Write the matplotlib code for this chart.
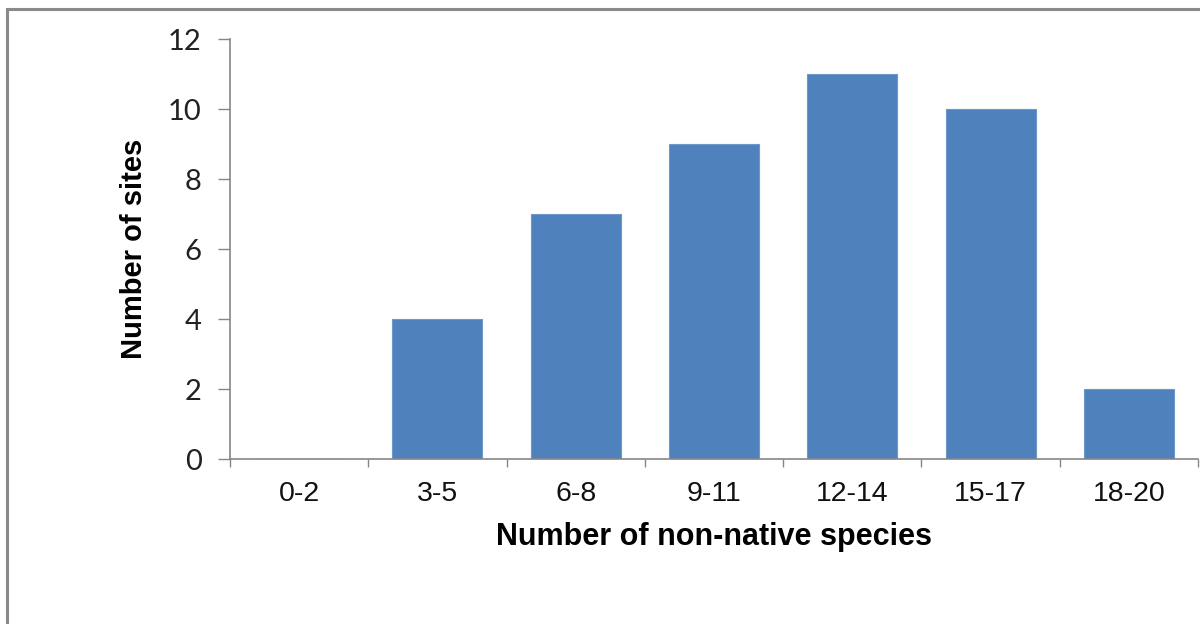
import matplotlib
matplotlib.use("Agg")
import matplotlib.pyplot as plt
from matplotlib.patches import Rectangle
import numpy as np

categories = ["0-2", "3-5", "6-8", "9-11", "12-14", "15-17", "18-20"]
sites = [0, 4, 7, 9, 11, 10, 2]
yticks = [0, 2, 4, 6, 8, 10, 12]

BAR = "#4F81BD"
AXC = "#868686"

fig = plt.figure(figsize=(12, 6.24), dpi=100)
ax = fig.add_axes([230/1200, 1-459/624, 968/1200, 420/624])

x = np.arange(len(categories))
ax.bar(x, sites, width=0.65, color=BAR, edgecolor="#6d98cc", linewidth=0.8, zorder=2)

ax.set_xlim(-0.5, len(categories)-0.5)
ax.set_ylim(0, 12)
ax.set_yticks(yticks)
ax.set_yticklabels([str(v) for v in yticks], family="Lato", fontsize=21, color="#222")
ax.set_xticks(x)
ax.set_xticklabels(categories, family="Liberation Sans", fontsize=20.5, color="#111")
ax.set_xticks(np.arange(len(categories)+1)-0.5, minor=True)

ax.tick_params(axis="x", which="major", length=0, pad=16)
ax.tick_params(axis="x", which="minor", length=6, width=1, color=AXC, direction="out")
ax.tick_params(axis="y", which="major", length=8.5, width=1, color=AXC, direction="out", pad=12)

for s in ("top", "right"):
    ax.spines[s].set_visible(False)
for s in ("left", "bottom"):
    ax.spines[s].set_color(AXC)
    ax.spines[s].set_linewidth(1.2)

ax.set_xlabel("Number of non-native species", family="Liberation Sans", fontsize=22,
              fontweight="bold", labelpad=11)
ax.set_ylabel("Number of sites", family="Liberation Sans", fontsize=21,
              fontweight="bold", labelpad=14)

# outer chart frame (cut off at right and bottom)
fig.patches.append(Rectangle((7/1200, -0.1), 1.2, 1-9/624+0.1, transform=fig.transFigure,
                             fill=False, edgecolor="#8a8a8a", linewidth=2.2, clip_on=False))

fig.savefig("out.png", dpi=100)
